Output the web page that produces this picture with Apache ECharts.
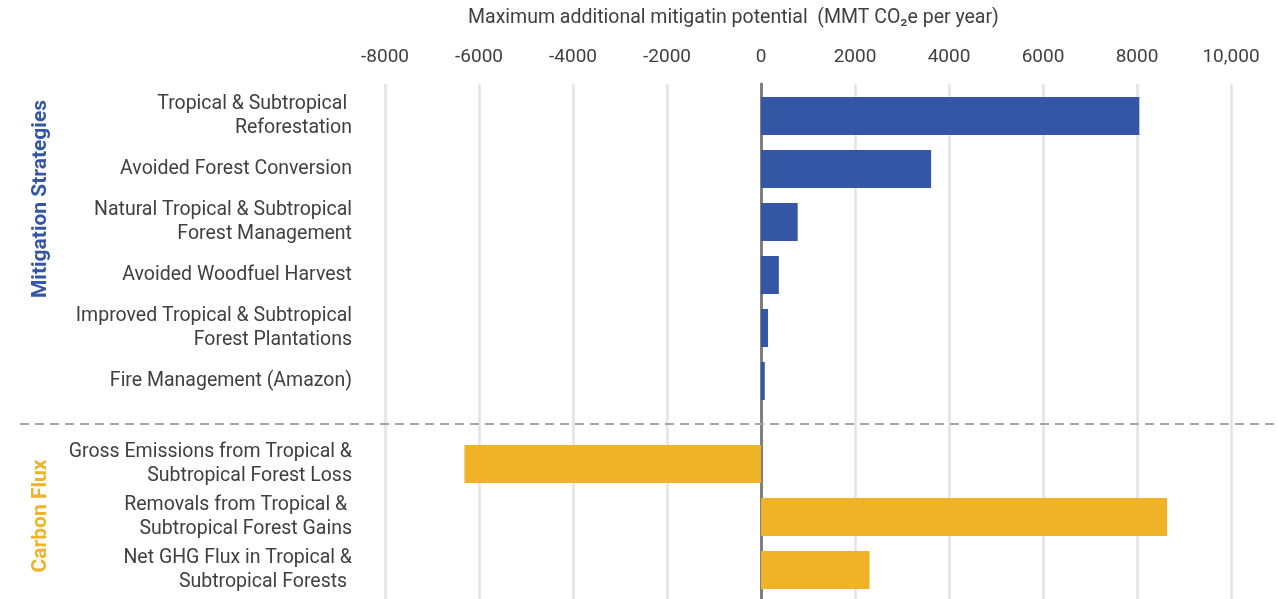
<!DOCTYPE html>
<html>
<head>
<meta charset="utf-8">
<script src="https://cdn.jsdelivr.net/npm/echarts@6/dist/echarts.min.js"></script>
<style>
  html, body { margin: 0; padding: 0; background: #ffffff; }
  #chart { width: 1278px; height: 599px; }
</style>
</head>
<body>
<div id="chart"></div>
<script>
// Mitigation strategies (MMT CO2e per year)
const mitigationCategories = [
  'Tropical & Subtropical \nReforestation',
  'Avoided Forest Conversion',
  'Natural Tropical & Subtropical\nForest Management',
  'Avoided Woodfuel Harvest',
  'Improved Tropical & Subtropical\nForest Plantations',
  'Fire Management (Amazon)'
];
const mitigationValues = [8050, 3620, 780, 380, 150, 80];

// Carbon flux (MMT CO2e per year)
const fluxCategories = [
  'Gross Emissions from Tropical &\nSubtropical Forest Loss',
  'Removals from Tropical & \nSubtropical Forest Gains',
  'Net GHG Flux in Tropical &\nSubtropical Forests '
];
const fluxValues = [-6310, 8640, 2310];

const tickLabels = ['-8000', '-6000', '-4000', '-2000', '0', '2000', '4000', '6000', '8000', '10,000'];
const axisMin = -8000, axisMax = 10000, axisStep = 2000;

const groupNames = ['Mitigation Strategies', 'Carbon Flux'];
const axisTitle = 'Maximum additional mitigatin potential  (MMT CO\u2082e per year)';

const BLUE = '#3555a5';
const GOLD = '#f0b226';
const TEXT = '#404040';
const FONT = 'Roboto, "Noto Sans", sans-serif';

const gridLeft = 385, gridRight = 47;
const band = 53;
const topA = 89.5, topB = 437.5;

const chart = echarts.init(document.getElementById('chart'), null, { renderer: 'canvas' });

const catLabel = {
  fontSize: 19.5, color: TEXT, fontFamily: FONT, lineHeight: 24, margin: 33, align: 'right'
};

chart.setOption({
  animation: false,
  backgroundColor: '#ffffff',
  textStyle: { fontFamily: FONT },
  grid: [
    { left: gridLeft, right: gridRight, top: 84, bottom: 0 },
    { left: gridLeft, right: gridRight, top: topA, height: band * mitigationCategories.length },
    { left: gridLeft, right: gridRight, top: topB, height: band * fluxCategories.length }
  ],
  xAxis: [
    {
      gridIndex: 0, type: 'value', position: 'top',
      min: axisMin, max: axisMax, interval: axisStep,
      axisLine: { show: false }, axisTick: { show: false },
      axisLabel: {
        fontSize: 19, color: TEXT, fontFamily: FONT, margin: 17,
        formatter: (v, i) => tickLabels[i]
      },
      splitLine: { show: true, lineStyle: { color: '#e3e3e3', width: 2.5 } }
    },
    { gridIndex: 1, type: 'value', min: axisMin, max: axisMax, show: false },
    { gridIndex: 2, type: 'value', min: axisMin, max: axisMax, show: false }
  ],
  yAxis: [
    {
      gridIndex: 0, type: 'value', min: 0, max: 1,
      axisLine: { show: true, onZero: true, lineStyle: { color: '#7f7f7f', width: 3 } },
      axisTick: { show: false }, axisLabel: { show: false }, splitLine: { show: false }
    },
    {
      gridIndex: 1, type: 'category', inverse: true, data: mitigationCategories,
      axisLine: { show: false }, axisTick: { show: false }, axisLabel: catLabel
    },
    {
      gridIndex: 2, type: 'category', inverse: true, data: fluxCategories,
      axisLine: { show: false }, axisTick: { show: false }, axisLabel: catLabel
    }
  ],
  series: [
    {
      type: 'bar', xAxisIndex: 1, yAxisIndex: 1, data: mitigationValues,
      barWidth: 38, itemStyle: { color: BLUE }
    },
    {
      type: 'bar', xAxisIndex: 2, yAxisIndex: 2, data: fluxValues,
      barWidth: 38, itemStyle: { color: GOLD }
    }
  ],
  graphic: [
    {
      type: 'text', left: 468, top: 8,
      style: { text: axisTitle, fontSize: 19.5, fill: TEXT, fontFamily: FONT }
    },
    {
      type: 'line', z: 10,
      shape: { x1: 20, y1: 424, x2: 1278, y2: 424 },
      style: { stroke: '#a6a6a6', lineWidth: 2, lineDash: [9, 6] }
    },
    {
      type: 'text', x: 41, y: 199, rotation: Math.PI / 2,
      style: {
        text: groupNames[0], fontSize: 21, fontWeight: 'bold', fill: BLUE,
        fontFamily: FONT, align: 'center', verticalAlign: 'middle'
      }
    },
    {
      type: 'text', x: 41, y: 516, rotation: Math.PI / 2,
      style: {
        text: groupNames[1], fontSize: 21, fontWeight: 'bold', fill: GOLD,
        fontFamily: FONT, align: 'center', verticalAlign: 'middle'
      }
    }
  ]
});
</script>
</body>
</html>
